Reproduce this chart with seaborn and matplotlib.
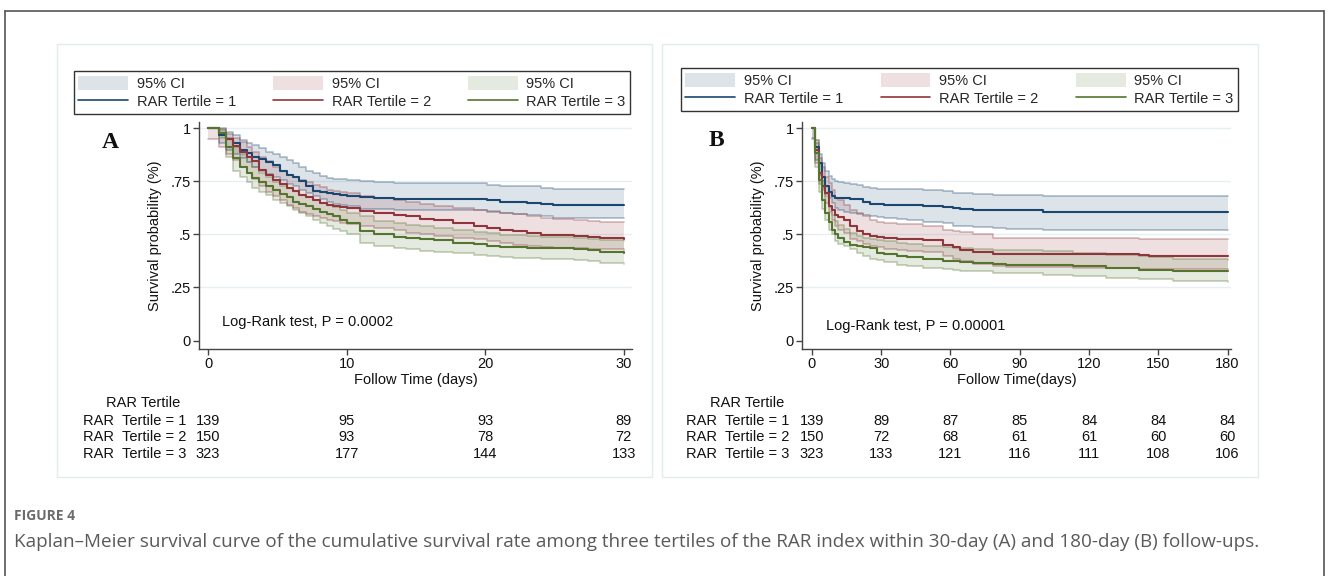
import matplotlib
matplotlib.use("Agg")
import matplotlib.pyplot as plt
import matplotlib.transforms as mtrans
from matplotlib.patches import Patch, Rectangle
from matplotlib.lines import Line2D
import seaborn as sns
import pandas as pd

# ---------------- data ----------------
# Panel A: 30-day follow-up
A_t = [0, 0.8, 1.3, 1.8, 2.3, 2.8, 3.2, 3.7, 4.2, 4.7, 5.2, 5.7, 6.1, 6.6, 7.1, 7.6, 8.1, 8.6, 9.0, 9.5,
       10.0, 11.0, 12.0, 13.4, 14.3, 15.3, 16.3, 17.7, 19.2, 20.1, 21.1, 22.0, 23.0, 24.0, 24.9, 26.4, 27.4, 28.3, 30]
A1_s = [1, .97, .95, .93, .90, .885, .867, .855, .843, .825, .80, .78, .77, .75, .726, .707, .70, .694, .69, .686,
        .682, .675, .671, .668, .668, .668, .667, .667, .666, .66, .655, .652, .65, .645, .64, .64, .64, .64, .64]
A1_hi = [1, 1.0, .985, .969, .945, .93, .92, .906, .89, .878, .867, .85, .835, .82, .80, .788, .777, .765, .762, .76,
         .757, .75, .745, .743, .742, .742, .742, .741, .741, .735, .73, .728, .726, .72, .715, .715, .715, .715, .715]
A1_lo = [1, .93, .90, .88, .86, .84, .82, .80, .785, .773, .755, .74, .726, .71, .695, .679, .667, .655, .645, .638,
         .632, .622, .619, .616, .615, .614, .614, .613, .613, .607, .60, .596, .592, .585, .577, .577, .577, .577, .577]
A2_s = [1, .976, .95, .915, .89, .865, .845, .805, .78, .757, .74, .718, .705, .687, .675, .663, .65, .64, .635, .63,
        .624, .612, .60, .59, .585, .575, .569, .555, .54, .53, .522, .514, .506, .498, .497, .494, .487, .483, .48]
A2_hi = [1, .995, .975, .955, .935, .914, .89, .867, .845, .82, .80, .78, .77, .757, .745, .734, .722, .71, .705, .70,
         .694, .68, .671, .66, .655, .645, .632, .625, .616, .61, .60, .597, .585, .577, .574, .569, .561, .56, .558]
A2_lo = [.95, .914, .88, .851, .82, .788, .76, .726, .70, .679, .66, .64, .625, .608, .595, .585, .577, .569, .562, .556,
         .55, .54, .53, .52, .509, .50, .494, .485, .478, .47, .459, .452, .444, .44, .437, .436, .432, .43, .428]
A3_s = [1, .976, .914, .859, .82, .788, .765, .745, .728, .71, .69, .676, .655, .645, .632, .62, .608, .596, .585, .57,
        .553, .514, .50, .49, .483, .477, .472, .462, .455, .444, .441, .439, .438, .437, .436, .433, .425, .415, .412]
A3_hi = [1, .992, .953, .91, .88, .843, .82, .79, .77, .749, .73, .718, .705, .687, .675, .663, .65, .64, .63, .616,
         .60, .585, .565, .555, .545, .538, .53, .522, .511, .505, .499, .496, .493, .49, .487, .483, .478, .472, .467]
A3_lo = [1, .953, .867, .80, .77, .749, .72, .702, .685, .663, .648, .632, .615, .60, .585, .569, .553, .538, .525, .514,
         .50, .46, .445, .436, .43, .423, .418, .412, .405, .397, .393, .389, .387, .384, .383, .378, .373, .367, .361]

# Panel B: 180-day follow-up
B_t = [0, 1.5, 2.9, 4.3, 5.8, 7.2, 8.6, 10.1, 11.5, 13.7, 16.6, 19.4, 22.3, 25.2, 28.1, 31, 36.7, 41, 48.2, 56.9,
       61.2, 64.1, 69.8, 78.5, 84.2, 100, 113, 127.4, 141.8, 146.2, 156.2, 180]
B1_s = [1, .914, .835, .773, .726, .70, .68, .672, .671, .67, .669, .668, .655, .643, .642, .641, .64, .64, .634, .63,
        .624, .622, .616, .615, .613, .605, .605, .605, .605, .605, .605, .605]
B1_hi = [1, .93, .88, .835, .80, .775, .76, .75, .745, .742, .738, .734, .725, .718, .716, .715, .713, .712, .71, .705,
         .697, .695, .69, .688, .686, .679, .679, .679, .679, .679, .679, .679]
B1_lo = [.95, .851, .78, .72, .69, .671, .65, .624, .615, .608, .603, .597, .59, .585, .58, .577, .572, .569, .56, .553,
         .541, .54, .534, .53, .527, .519, .519, .519, .519, .519, .519, .519]
B2_s = [1, .898, .788, .73, .694, .632, .615, .592, .58, .569, .538, .514, .50, .494, .49, .483, .48, .478, .472, .451,
        .44, .428, .418, .408, .408, .408, .408, .408, .405, .40, .40, .40]
B2_hi = [1, .945, .86, .82, .77, .741, .71, .671, .66, .64, .615, .60, .585, .569, .56, .553, .55, .548, .541, .522,
         .515, .51, .503, .483, .483, .482, .481, .481, .48, .48, .48, .48]
B2_lo = [.953, .835, .74, .71, .65, .608, .57, .538, .52, .506, .48, .47, .455, .447, .44, .431, .425, .42, .415, .397,
         .385, .373, .36, .35, .348, .345, .342, .34, .338, .337, .336, .334]
B3_s = [1, .882, .757, .663, .60, .56, .522, .50, .483, .465, .451, .445, .44, .436, .412, .41, .397, .392, .384, .375,
        .373, .37, .367, .363, .357, .354, .35, .342, .334, .333, .329, .329]
B3_hi = [1, .945, .83, .75, .679, .63, .592, .565, .545, .525, .505, .495, .485, .478, .475, .47, .459, .455, .447, .44,
         .437, .436, .433, .428, .425, .42, .412, .405, .397, .395, .384, .381]
B3_lo = [1, .82, .70, .62, .569, .52, .50, .47, .455, .445, .43, .412, .40, .385, .378, .37, .357, .352, .342, .335,
         .331, .33, .327, .32, .318, .31, .302, .297, .29, .288, .282, .277]

groups = ["RAR Tertile = 1", "RAR Tertile = 2", "RAR Tertile = 3"]
row_labels = ["RAR  Tertile = 1", "RAR  Tertile = 2", "RAR  Tertile = 3"]
A_risk_times = [0, 10, 20, 30]
A_risk = [[139, 95, 93, 89], [150, 93, 78, 72], [323, 177, 144, 133]]
B_risk_times = [0, 30, 60, 90, 120, 150, 180]
B_risk = [[139, 89, 87, 85, 84, 84, 84], [150, 72, 68, 61, 61, 60, 60], [323, 133, 121, 116, 111, 108, 106]]
y_ticks = [0, .25, .5, .75, 1]
y_ticklabels = ["0", ".25", ".5", ".75", "1"]
caption_title = "FIGURE 4"
caption = ("Kaplan\u2013Meier survival curve of the cumulative survival rate among three tertiles of the RAR index "
           "within 30-day (A) and 180-day (B) follow-ups.")

colors = ["#1a476f", "#90353b", "#55752f"]

# ---------------- figure ----------------
sns.set_theme(style="white")
plt.rcParams["font.family"] = ["Liberation Sans", "DejaVu Sans"]

W, H = 1328, 576
fig = plt.figure(figsize=(W / 100, H / 100), dpi=100)


def fx(px):
    return px / W


def fy(py):
    return 1 - py / H


# outer frame and panel frames
for (x0, y0, x1, y1) in [(4.5, 10.5, 4.5, 576), (4.5, 10.5, 1323.5, 10.5), (1323.5, 10.5, 1323.5, 576)]:
    fig.add_artist(Line2D([fx(x0), fx(x1)], [fy(y0), fy(y1)], color="#555555", lw=1.2))
for (x0, x1) in [(57, 652), (662, 1258)]:
    fig.add_artist(Rectangle((fx(x0), fy(477)), (x1 - x0) / W, (477 - 44) / H, fill=False,
                             edgecolor="#e2ebed", lw=1.0))

axA = fig.add_axes([fx(199), fy(349), (632 - 199) / W, (349 - 122) / H])
axB = fig.add_axes([fx(802), fy(349), (1231 - 802) / W, (349 - 122) / H])


def draw_panel(ax, t, series, xlim, xticks, xlabel):
    for yv in y_ticks[1:]:
        ax.axhline(yv, color="#e6eff1", lw=1.0, zorder=0)
    for (s, lo, hi), c in zip(series, colors):
        ax.fill_between(t, lo, hi, step="post", color=c, alpha=0.15, lw=0, zorder=1)
    for (s, lo, hi), c in zip(series, colors):
        for b in (lo, hi):
            sns.lineplot(x=t, y=b, drawstyle="steps-post", color=c, alpha=0.35, lw=1.2,
                         estimator=None, legend=False, ax=ax, zorder=2)
    for (s, lo, hi), c in zip(series, colors):
        sns.lineplot(x=t, y=s, drawstyle="steps-post", color=c, lw=1.5,
                     estimator=None, legend=False, ax=ax, zorder=3)
    ax.set_xlim(*xlim)
    ax.set_ylim(-0.04, 1.03)
    ax.set_xticks(xticks)
    ax.set_yticks(y_ticks)
    ax.set_yticklabels(y_ticklabels)
    ax.set_xlabel(xlabel, fontsize=10.5, labelpad=1, color="#111111")
    ax.set_ylabel("Survival probability (%)", fontsize=10.5, labelpad=6, color="#111111")
    for sp in ["top", "right"]:
        ax.spines[sp].set_visible(False)
    for sp in ["left", "bottom"]:
        ax.spines[sp].set_color("#444444")
        ax.spines[sp].set_linewidth(1.0)
    ax.tick_params(axis="both", which="major", length=4, width=1, color="#444444",
                   labelsize=10.5, labelcolor="#111111", pad=2, left=True, bottom=True)
    ax.set_facecolor("none")


draw_panel(axA, A_t, [(A1_s, A1_lo, A1_hi), (A2_s, A2_lo, A2_hi), (A3_s, A3_lo, A3_hi)],
           (-0.65, 30.6), A_risk_times, "Follow Time (days)")
draw_panel(axB, B_t, [(B1_s, B1_lo, B1_hi), (B2_s, B2_lo, B2_hi), (B3_s, B3_lo, B3_hi)],
           (-4.3, 181.5), B_risk_times, "Follow Time(days)")

# legends
handles = []
labels = []
for g, c in zip(groups, colors):
    handles += [Patch(facecolor=c, alpha=0.15, edgecolor="none"), Line2D([], [], color=c, lw=1.2)]
    labels += ["95% CI", g]
for (x0, x1, y0, y1) in [(74, 630, 68, 117), (681, 1238, 65, 114)]:
    leg = fig.legend(handles, labels, ncol=3, loc="center",
                     bbox_to_anchor=(fx(x0), fy(y1), (x1 - x0) / W, (y1 - y0) / H),
                     mode="expand", frameon=True, fancybox=False, edgecolor="#333333",
                     framealpha=1, handlelength=3.4, handleheight=1.1, fontsize=10.5,
                     borderpad=0.3, labelspacing=0.25, handletextpad=0.6, borderaxespad=0)
    leg.get_frame().set_linewidth(1.0)

# panel letters and log-rank text
fig.text(fx(110), fy(142), "A", family="Liberation Serif", fontweight="bold", fontsize=17,
         ha="center", va="center", color="#111111")
fig.text(fx(716), fy(140), "B", family="Liberation Serif", fontweight="bold", fontsize=17,
         ha="center", va="center", color="#111111")
fig.text(fx(222), fy(322), "Log-Rank test, P = 0.0002", fontsize=10.5, va="center", color="#111111")
fig.text(fx(826), fy(326), "Log-Rank test, P = 0.00001", fontsize=10.5, va="center", color="#111111")

# number-at-risk tables
rows_y = [421, 437, 454]
for ax, times, risk, lab_x, head_x in [(axA, A_risk_times, A_risk, 83, 106), (axB, B_risk_times, B_risk, 686, 710)]:
    tr = mtrans.blended_transform_factory(ax.transData, fig.transFigure)
    fig.text(fx(head_x), fy(403), "RAR Tertile", fontsize=10.5, va="center", color="#111111")
    for r, (lab, vals) in enumerate(zip(row_labels, risk)):
        fig.text(fx(lab_x), fy(rows_y[r]), lab, fontsize=10.5, va="center", color="#111111")
        for tt, v in zip(times, vals):
            ax.text(tt, fy(rows_y[r]), str(v), transform=tr, fontsize=10.5, ha="center",
                    va="center", color="#111111", clip_on=False)

# caption
fig.text(fx(14), fy(516), caption_title, family=["Open Sans", "DejaVu Sans"], fontweight="bold",
         fontsize=10, color="#6b6b6b", va="center")
fig.text(fx(14), fy(542), caption, family=["Open Sans", "DejaVu Sans"], fontsize=13.6,
         color="#5a5a5a", va="center")

fig.savefig("out.png", dpi=100)
